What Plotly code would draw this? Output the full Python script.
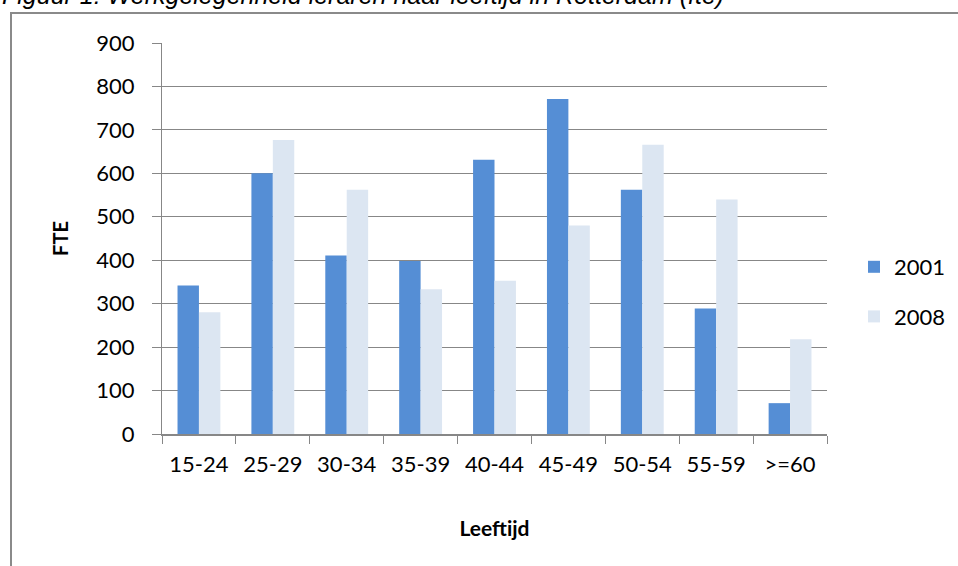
import plotly.graph_objects as go

categories = ['15-24', '25-29', '30-34', '35-39', '40-44', '45-49', '50-54', '55-59', '>=60']
fte_2001 = [342, 600, 411, 398, 631, 771, 562, 289, 71]
fte_2008 = [280, 677, 562, 333, 353, 480, 666, 540, 218]
y_ticks = [0, 100, 200, 300, 400, 500, 600, 700, 800, 900]

grey = '#878787'
tick_font = dict(family='Lato', size=22, color='black')

fig = go.Figure()
fig.add_trace(go.Bar(x=categories, y=fte_2001, name='2001', legendgroup='a',
                     marker=dict(color='#558ED5', line=dict(width=0))))
fig.add_trace(go.Bar(x=categories, y=fte_2008, name='2008', legendgroup='b',
                     marker=dict(color='#DCE6F2', line=dict(width=0))))

# plot area in pixels: x 162..827, y 43..434
W, H = 958, 566
L, R, T, B = 162, 131, 43, 132


def px(x):
    return (x - L) / (W - L - R)


def py(y):
    return (H - B - y) / (H - T - B)


fig.update_layout(
    width=W, height=H,
    margin=dict(l=L, r=R, t=T, b=B, autoexpand=False),
    paper_bgcolor='white', plot_bgcolor='white',
    barmode='group', bargap=0.42, bargroupgap=0,
    showlegend=True,
    legend=dict(x=px(854), xanchor='left', y=py(292), yanchor='middle',
                font=dict(family='Lato', size=22, color='black'),
                traceorder='grouped', tracegroupgap=18, bgcolor='rgba(0,0,0,0)'),
    shapes=[dict(type='rect', xref='paper', yref='paper',
                 x0=px(11), x1=px(1200), y0=py(700), y1=py(13),
                 line=dict(color='#8a8a8a', width=2), layer='below')],
    annotations=[dict(text='Figuur 1: Werkgelegenheid leraren naar leeftijd in Rotterdam (fte)',
                      xref='paper', yref='paper', x=px(0), xanchor='left',
                      y=py(11), yanchor='bottom', showarrow=False,
                      font=dict(family='Liberation Sans', size=25, color='black', style='italic'))],
)

fig.update_yaxes(range=[0, 900], tickvals=y_ticks, ticks='outside', ticklen=9,
                 tickcolor=grey, tickwidth=1, showline=True, linecolor=grey, linewidth=1,
                 showgrid=True, gridcolor=grey, gridwidth=1, zeroline=False, automargin=False,
                 tickfont=tick_font, ticklabelstandoff=13,
                 title=dict(text='<b>FTE</b>', font=dict(family='Lato', size=20, color='black'),
                            standoff=22))
fig.update_xaxes(ticks='outside', ticklen=8, tickcolor=grey, tickwidth=1, tickson='boundaries',
                 showline=True, linecolor=grey, linewidth=2, showgrid=False, automargin=False,
                 tickfont=tick_font, ticklabelstandoff=10,
                 title=dict(text='<b>Leeftijd</b>', font=dict(family='Lato', size=21, color='black'),
                            standoff=45))

fig.write_html('out.html', config={'displayModeBar': False},
               post_script="document.body.style.margin = '0';")
